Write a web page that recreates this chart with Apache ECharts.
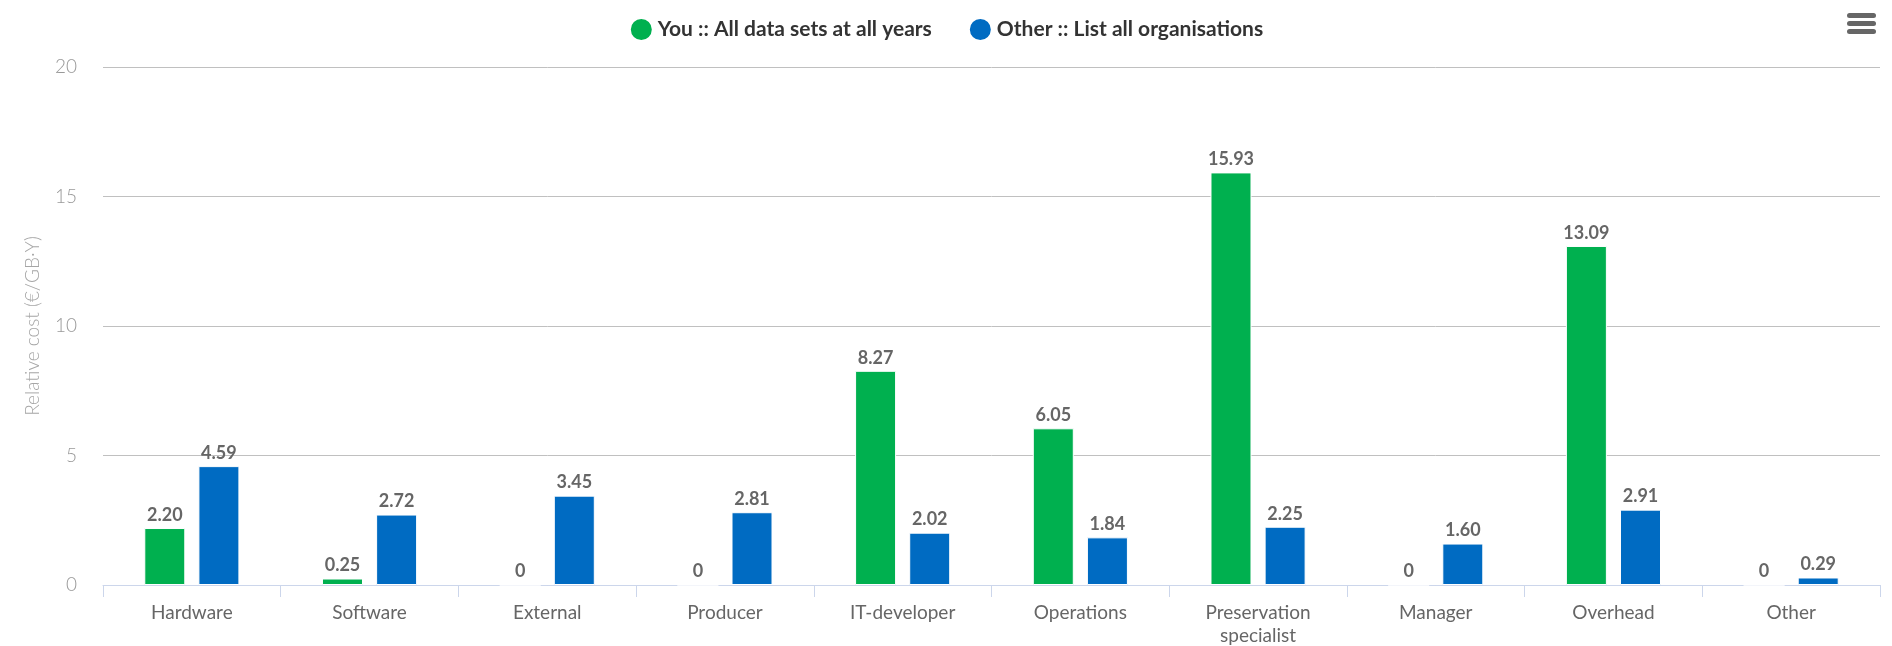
<!DOCTYPE html>
<html>
<head>
<meta charset="utf-8">
<script src="https://cdn.jsdelivr.net/npm/echarts@6/dist/echarts.min.js"></script>
<style>
  html, body { margin: 0; padding: 0; background: #fff; }
  #chart { width: 1892px; height: 646px; }
</style>
</head>
<body>
<div id="chart"></div>
<script>
// categories and the two series
var categories = ['Hardware', 'Software', 'External', 'Producer', 'IT-developer',
  'Operations', 'Preservation\nspecialist', 'Manager', 'Overhead', 'Other'];
var youValues = [2.20, 0.25, 0, 0, 8.27, 6.05, 15.93, 0, 13.09, 0];
var otherValues = [4.59, 2.72, 3.45, 2.81, 2.02, 1.84, 2.25, 1.60, 2.91, 0.29];
var seriesNames = ['You :: All data sets at all years', 'Other :: List all organisations'];
var yTicks = { min: 0, max: 20, interval: 5 };

var font = 'Lato, "Open Sans", sans-serif';

function fmt(p) {
  return p.value === 0 ? '0' : p.value.toFixed(2);
}

function bar(name, data, color) {
  return {
    name: name,
    type: 'bar',
    data: data,
    barWidth: 41,
    barGap: '32%',
    itemStyle: { color: color, borderColor: '#fff', borderWidth: 1 },
    label: {
      show: true,
      position: 'top',
      distance: 4,
      formatter: fmt,
      color: '#666',
      fontFamily: font,
      fontWeight: 'bold',
      fontSize: 18
    }
  };
}

var chart = echarts.init(document.getElementById('chart'));
chart.setOption({
  animation: false,
  textStyle: { fontFamily: font },
  legend: {
    top: 12,
    left: 'center',
    icon: 'circle',
    itemWidth: 23,
    itemHeight: 23,
    itemGap: 36,
    textStyle: { color: '#333', fontSize: 21, fontWeight: 'bold', fontFamily: font }
  },
  grid: { left: 103, right: 12, top: 67, bottom: 61, containLabel: false, outerBoundsMode: 'none' },
  xAxis: {
    type: 'category',
    data: categories,
    axisLine: { lineStyle: { color: '#ccd6eb', width: 1 } },
    axisTick: { show: true, length: 12, lineStyle: { color: '#ccd6eb' } },
    axisLabel: { color: '#666', fontSize: 19, fontFamily: font, margin: 16, lineHeight: 23, interval: 0 }
  },
  yAxis: {
    type: 'value',
    min: yTicks.min,
    max: yTicks.max,
    interval: yTicks.interval,
    name: 'Relative cost (€/GB·Y)',
    nameLocation: 'middle',
    nameGap: 61,
    nameMoveOverlap: false,
    nameTextStyle: { color: '#a6a6a6', fontSize: 19, fontFamily: font, fontWeight: 300 },
    axisLine: { show: false },
    axisTick: { show: false },
    axisLabel: { color: '#999', fontSize: 19, fontFamily: font, fontWeight: 300, margin: 26 },
    splitLine: { lineStyle: { color: '#c0c0c0', width: 1 } }
  },
  series: [
    bar(seriesNames[0], youValues, '#00b04f'),
    bar(seriesNames[1], otherValues, '#006bc2')
  ],
  graphic: [{
    type: 'group',
    right: 16,
    top: 13,
    children: [
      { type: 'rect', shape: { x: 0, y: 0, width: 29, height: 5, r: 2.5 }, style: { fill: '#666' } },
      { type: 'rect', shape: { x: 0, y: 8, width: 29, height: 5, r: 2.5 }, style: { fill: '#666' } },
      { type: 'rect', shape: { x: 0, y: 16, width: 29, height: 5, r: 2.5 }, style: { fill: '#666' } }
    ]
  }]
});
</script>
</body>
</html>
